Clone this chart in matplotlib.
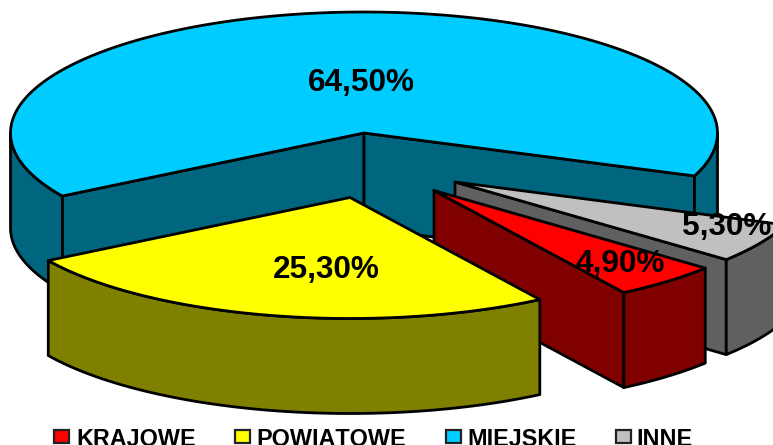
import numpy as np
import matplotlib
matplotlib.use("Agg")
import matplotlib.pyplot as plt
from matplotlib.patches import Polygon, Rectangle

plt.rcParams['font.family'] = ['Liberation Sans', 'DejaVu Sans']
plt.rcParams['text.kerning_factor'] = 16  # reference text has no kerning

# DATA
categories = ['KRAJOWE', 'POWIATOWE', 'MIEJSKIE', 'INNE']
values = [4.9, 25.3, 64.5, 5.3]
value_labels = ['4,90%', '25,30%', '64,50%', '5,30%']

# STYLE / LAYOUT (pixel coordinates of the reference)
top_colors = ['#FF0000', '#FFFF00', '#00CCFF', '#C0C0C0']
side_colors = ['#800000', '#808000', '#006680', '#606060']
apex_x = [434, 350, 364, 455]
apex_y = [190.5, 197.5, 133, 182]
label_x = [620.5, 326, 361.5, 726.5]
label_y = [272, 278, 91, 235]
swatch_x = [53.5, 234.8, 445.5, 615.8]
legend_text_x = [76, 256.5, 467.5, 636]
draw_order = [2, 3, 0, 1]

rx, ry = 353.5, 121
depth = 95
lw = 2.0
start_angle = 211.4  # angle where KRAJOWE + POWIATOWE end, MIEJSKIE starts (clockwise)


def rim(cx, cy, t):
    rad = np.radians(t)
    return cx + rx * np.cos(rad), cy - ry * np.sin(rad)


def face(ax, x, y, color):
    ax.add_patch(Polygon(np.column_stack([x, y]), closed=True, facecolor=color,
                         edgecolor='black', linewidth=lw, joinstyle='round'))


def draw_sector(ax, cx, cy, t1, t2, top, side):
    # radial walls, only those turned to the viewer
    for t, normal in ((t1, t1 + 90), (t2, t2 - 90)):
        if np.sin(np.radians(normal)) < 0:
            x, y = rim(cx, cy, t)
            face(ax, [cx, x, x, cx], [cy, y, y + depth, cy + depth], side)

    # outer wall where the rim is on the front half of the ellipse
    for k in (-1, 0, 1):
        lo = max(t2, 360 * k - 180)
        hi = min(t1, 360 * k)
        if hi <= lo:
            continue
        t = np.linspace(hi, lo, 80)
        x, y = rim(cx, cy, t)
        face(ax, np.r_[x, x[::-1]], np.r_[y, y[::-1] + depth], side)

    # top face
    t = np.linspace(t1, t2, 200)
    x, y = rim(cx, cy, t)
    face(ax, np.r_[cx, x], np.r_[cy, y], top)


fig = plt.figure(figsize=(7.73, 4.45), dpi=100)
ax = fig.add_axes([0, 0, 1, 1])
ax.set_xlim(0, 773)
ax.set_ylim(445, 0)
ax.axis('off')

# angles go clockwise: MIEJSKIE, INNE, KRAJOWE, POWIATOWE
sweep = [v * 360 / sum(values) for v in values]
a_miejskie_end = start_angle - sweep[2]
a_inne_end = a_miejskie_end - sweep[3]
a_krajowe_end = a_inne_end - sweep[0]
a_powiatowe_end = a_krajowe_end - sweep[1]
angles = [
    (a_inne_end, a_krajowe_end),
    (a_krajowe_end, a_powiatowe_end),
    (start_angle, a_miejskie_end),
    (a_miejskie_end, a_inne_end),
]

for i in draw_order:
    draw_sector(ax, apex_x[i], apex_y[i], angles[i][0], angles[i][1],
                top_colors[i], side_colors[i])

for i in range(len(categories)):
    ax.text(label_x[i], label_y[i], value_labels[i], fontsize=22.7, fontweight='bold',
            ha='center', va='baseline', color='black', zorder=5)

    # legend
    ax.add_patch(Rectangle((swatch_x[i], 429.8), 15.5, 13.5, facecolor=top_colors[i],
                           edgecolor='#222222', linewidth=1.6, zorder=5))
    ax.text(legend_text_x[i], 445.5, categories[i], fontsize=16.85, fontweight='bold',
            ha='left', va='baseline', color='black', zorder=5)

fig.savefig('out.png', dpi=100)
